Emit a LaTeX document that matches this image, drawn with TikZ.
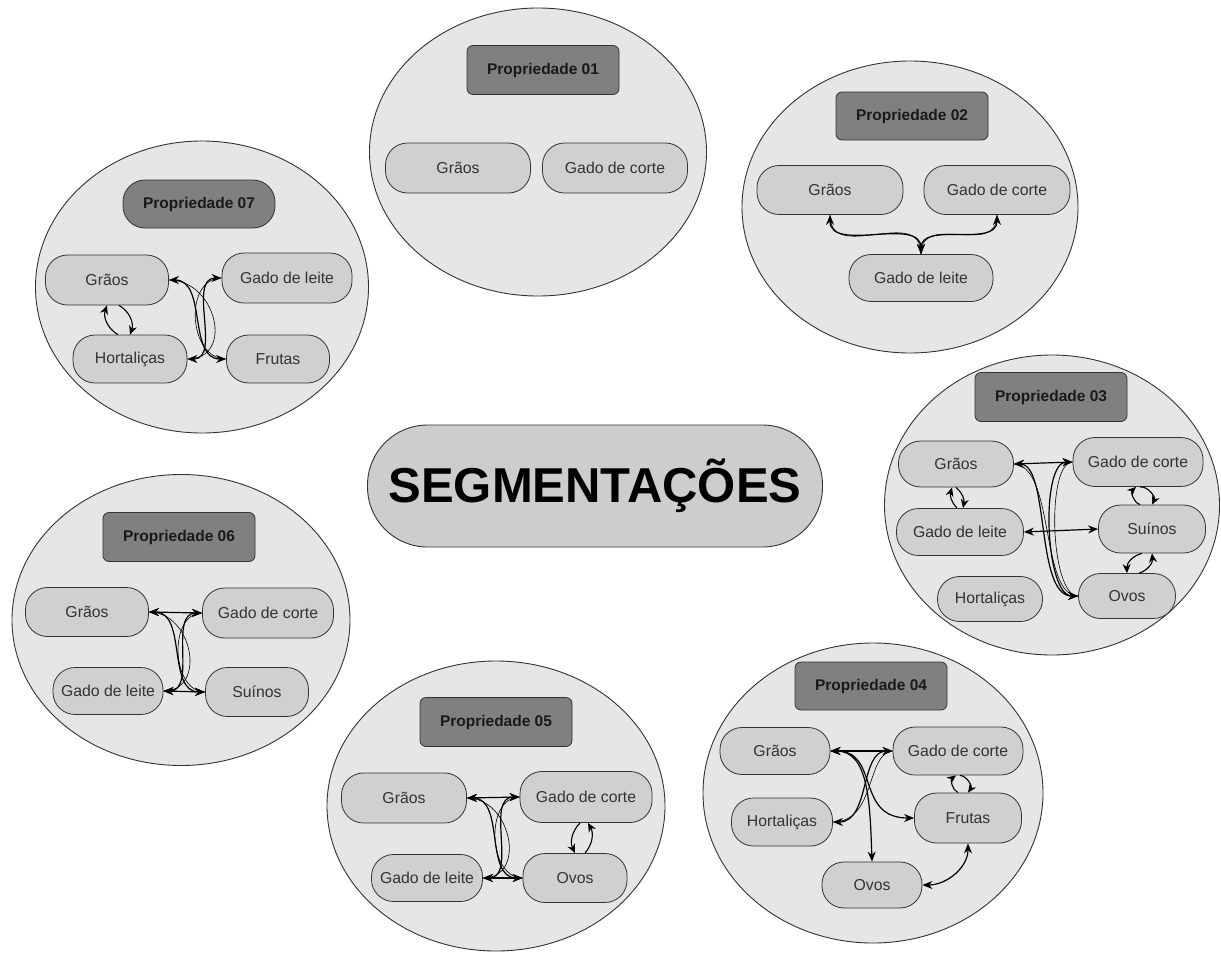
\documentclass[tikz,border=0pt]{standalone}
\usepackage{fontspec}
\setmainfont{Liberation Sans}
\usetikzlibrary{shapes.geometric,arrows.meta}
\definecolor{circfill}{HTML}{E6E6E6}
\definecolor{itemfill}{HTML}{D0D0D0}
\definecolor{hdrfill}{HTML}{808080}
\definecolor{segfill}{HTML}{CDCDCD}
\definecolor{edgegray}{HTML}{333333}
\definecolor{txtgray}{HTML}{333333}
\begin{document}
\begin{tikzpicture}[x=1pt,y=1pt,
 prop/.style={ellipse, draw=edgegray, line width=0.9pt, fill=circfill, inner sep=0},
 item/.style={draw=edgegray, line width=0.8pt, fill=itemfill, rounded corners=22pt, inner sep=0, text=txtgray, font=\fontsize{15.8}{18}\selectfont, minimum height=48pt},
 hdr/.style={draw=edgegray, line width=0.8pt, fill=hdrfill, rounded corners=6pt, inner sep=0, text=black!90, font=\fontsize{15.5}{18}\selectfont\bfseries, minimum width=152pt, minimum height=49pt},
 seg/.style={draw=edgegray, line width=0.9pt, fill=segfill, rounded corners=60pt, inner sep=0, text=black, font=\fontsize{49}{56}\selectfont\bfseries, minimum width=455pt, minimum height=122pt},
 darr/.style={{Stealth[length=10pt,width=8pt]}-{Stealth[length=10pt,width=8pt]}, line width=1.2pt},
 sarr/.style={-{Stealth[length=9pt,width=8pt]}, line width=1.1pt},
 ghost/.style={line width=0.6pt}
]
\useasboundingbox[fill=white] (0,0) rectangle (1221,-956);

% containers
\node[prop, minimum width=337pt, minimum height=288pt] (c1) at (538,-152) {};
\node[prop, minimum width=336pt, minimum height=292pt] (c2) at (910,-207) {};
\node[prop, minimum width=335pt, minimum height=300pt] (c3) at (1052,-505) {};
\node[prop, minimum width=340pt, minimum height=300pt] (c4) at (873,-793) {};
\node[prop, minimum width=338pt, minimum height=290pt] (c5) at (496,-806) {};
\node[prop, minimum width=338pt, minimum height=291pt] (c6) at (181,-620) {};
\node[prop, minimum width=333pt, minimum height=292pt] (c7) at (202,-287) {};

% central
\node[seg] (seg) at (595,-486) {SEGMENTAÇÕES};

% Propriedade 01
\node[hdr] (h1) at (543,-70) {Propriedade 01};
\node[item, minimum width=145pt, minimum height=50pt] (g1) at (458,-168) {Grãos};
\node[item, minimum width=145pt, minimum height=50pt] (gc1) at (615,-168) {Gado de corte};

% Propriedade 02
\node[hdr, minimum height=48pt] (h2) at (912,-116) {Propriedade 02};
\node[item, minimum width=146pt, minimum height=49pt] (g2) at (830,-190) {Grãos};
\node[item, minimum width=146pt, minimum height=49pt] (gc2) at (997,-190) {Gado de corte};
\node[item, minimum width=144pt, minimum height=47pt] (gl2) at (921,-278) {Gado de leite};
\draw[darr] (gl2.north) to[out=90,in=-90] (g2.south);
\draw[darr] (gl2.north) to[out=90,in=-90] (gc2.south);
\draw[ghost] (gl2.north) to[out=90,in=-90,looseness=1.3] (g2.south);
\draw[ghost] (gl2.north) to[out=90,in=-90,looseness=1.3] (gc2.south);

% Propriedade 03
\node[hdr] (h3) at (1051,-397) {Propriedade 03};
\node[item, minimum width=115pt, minimum height=46pt] (g3) at (956,-464) {Grãos};
\node[item, minimum width=130pt, minimum height=49pt] (gc3) at (1138,-462) {Gado de corte};
\node[item, minimum width=127pt, minimum height=47pt] (gl3) at (960,-532) {Gado de leite};
\node[item, minimum width=107pt, minimum height=48pt] (s3) at (1152,-529) {Suínos};
\node[item, minimum width=105pt, minimum height=45pt] (ho3) at (990,-599) {Hortaliças};
\node[item, minimum width=97pt, minimum height=45pt] (o3) at (1127,-596) {Ovos};
\draw[darr] (g3.east) -- (gc3.west);
\draw[darr] (gl3.east) -- (s3.west);
\draw[darr] (g3.east) .. controls (1050,-464) and (1035,-596) .. (o3.west);
\draw[ghost] (g3.east) .. controls (1055,-466) and (1040,-596) .. (o3.west);
\draw[darr] (gc3.west) .. controls (1040,-462) and (1045,-596) .. (o3.west);
\draw[ghost] (gc3.west) .. controls (1046,-462) and (1050,-596) .. (o3.west);
\draw[sarr] ([xshift=-3pt]gl3.north) to[bend left=30] ([xshift=-4pt]g3.south);
\draw[sarr] (g3.south) to[bend left=30] ([xshift=3pt]gl3.north);
\draw[sarr] ([xshift=-12pt]s3.north) to[bend left=60] ([xshift=-2pt]gc3.south);
\draw[sarr] ([xshift=2pt]gc3.south) to[bend left=60] (s3.north);
\draw[sarr] ([xshift=-10pt]s3.south) to[bend right=40] (o3.north);
\draw[sarr] ([xshift=12pt]o3.north) to[bend right=40] (s3.south);

% Propriedade 04
\node[hdr, minimum height=48pt] (h4) at (871,-686) {Propriedade 04};
\node[item, minimum width=110pt, minimum height=47pt] (g4) at (775,-751) {Grãos};
\node[item, minimum width=130pt, minimum height=48pt] (gc4) at (958,-751) {Gado de corte};
\node[item, minimum width=101pt, minimum height=48pt] (ho4) at (782,-822) {Hortaliças};
\node[item, minimum width=107pt, minimum height=50pt] (f4) at (968,-818) {Frutas};
\node[item, minimum width=100pt, minimum height=46pt] (o4) at (872,-885) {Ovos};
\draw[darr] (g4.east) -- (gc4.west);
\draw[darr] (g4.east) .. controls (868,-751) and (870,-800) .. (o4.north);
\draw[darr] (gc4.west) .. controls (860,-751) and (870,-822) .. (ho4.east);
\draw[ghost] (gc4.west) .. controls (866,-753) and (876,-822) .. (ho4.east);
\draw[darr] (g4.east) .. controls (880,-751) and (855,-818) .. (f4.west);
\draw[darr] (f4.south) to[out=-90,in=0] (o4.east);
\draw[sarr] ([xshift=-10pt]f4.north) to[bend left=60] ([xshift=-2pt]gc4.south);
\draw[sarr] ([xshift=2pt]gc4.south) to[bend left=60] (f4.north);

% Propriedade 05
\node[hdr] (h5) at (496,-722) {Propriedade 05};
\node[item, minimum width=125pt, minimum height=50pt] (g5) at (404,-798) {Grãos};
\node[item, minimum width=132pt, minimum height=51pt] (gc5) at (586,-797) {Gado de corte};
\node[item, minimum width=111pt, minimum height=47pt] (gl5) at (427,-878) {Gado de leite};
\node[item, minimum width=104pt, minimum height=49pt] (o5) at (575,-878) {Ovos};
\draw[darr] (g5.east) -- (gc5.west);
\draw[darr] (gl5.east) -- (o5.west);
\draw[darr] (g5.east) to[out=0,in=180] (o5.west);
\draw[darr] (gc5.west) to[out=180,in=0] (gl5.east);
\draw[ghost] (g5.east) to[out=0,in=0,looseness=1.4] (gl5.east);
\draw[ghost] (gc5.west) to[out=180,in=180,looseness=1.1] (o5.west);
\draw[sarr] ([xshift=-6pt]gc5.south) to[bend right=35] (o5.north);
\draw[sarr] ([xshift=10pt]o5.north) to[bend right=35] ([xshift=2pt]gc5.south);

% Propriedade 06
\node[hdr] (h6) at (179,-537) {Propriedade 06};
\node[item, minimum width=123pt, minimum height=49pt] (g6) at (87,-612) {Grãos};
\node[item, minimum width=131pt, minimum height=50pt] (gc6) at (268,-613) {Gado de corte};
\node[item, minimum width=110pt, minimum height=47pt] (gl6) at (108,-691) {Gado de leite};
\node[item, minimum width=103pt, minimum height=49pt] (s6) at (257,-692) {Suínos};
\draw[darr] (g6.east) -- (gc6.west);
\draw[darr] (gl6.east) -- (s6.west);
\draw[darr] (g6.east) to[out=0,in=180] (s6.west);
\draw[darr] (gc6.west) to[out=180,in=0] (gl6.east);
\draw[ghost] (g6.east) to[out=0,in=0,looseness=1.4] (gl6.east);
\draw[ghost] (gc6.west) to[out=180,in=180,looseness=1.1] (s6.west);

% Propriedade 07
\node[hdr, rounded corners=22pt, minimum height=48pt] (h7) at (199,-204) {Propriedade 07};
\node[item, minimum width=123pt, minimum height=50pt] (g7) at (107,-280) {Grãos};
\node[item, minimum width=130pt, minimum height=50pt] (gl7) at (287,-278) {Gado de leite};
\node[item, minimum width=114pt, minimum height=48pt] (ho7) at (130,-359) {Hortaliças};
\node[item, minimum width=103pt, minimum height=48pt] (f7) at (278,-359) {Frutas};
\draw[darr] (g7.east) to[out=0,in=180] (f7.west);
\draw[darr] (gl7.west) to[out=180,in=0] (ho7.east);
\draw[ghost] (g7.east) to[out=0,in=0,looseness=1.5] (ho7.east);
\draw[ghost] (gl7.west) to[out=180,in=180,looseness=1.2] (f7.west);
\draw[sarr] ([xshift=-12pt]ho7.north) to[bend left=40] (g7.south);
\draw[sarr] ([xshift=12pt]g7.south) to[bend left=40] (ho7.north);
\end{tikzpicture}
\end{document}
